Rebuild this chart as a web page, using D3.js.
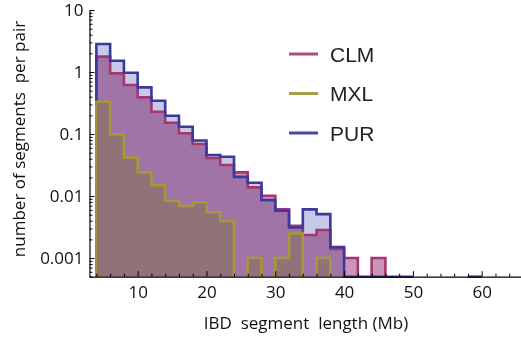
<!DOCTYPE html>
<html><head><meta charset="utf-8">
<script src="https://cdn.jsdelivr.net/npm/d3@7"></script>
<style>body{margin:0;background:#fff} svg{display:block}</style>
</head><body><svg id="c" width="521" height="339"></svg>
<script>
// histogram bins: 2 Mb wide starting at 4 Mb
const binStart = 4;
const binWidth = 2;
const seriesNames = ["CLM", "MXL", "PUR"];
const clmValues = [1.77, 0.95, 0.617, 0.39, 0.229, 0.152, 0.103, 0.069, 0.041, 0.0316,
  0.0241, 0.0138, 0.0101, 0.0061, 0.0033, 0.00235, 0.00283, 0.0014, 0.001, 0,
  0.001, 0, 0, 0, 0, 0, 0, 0];
const mxlValues = [0.332, 0.098, 0.0415, 0.0241, 0.015, 0.0084, 0.0069, 0.0079, 0.00546, 0.00395,
  0, 0.001, 0, 0.001, 0.0025, 0, 0.001, 0, 0, 0,
  0, 0, 0, 0, 0, 0, 0, 0];
const purValues = [2.83, 1.52, 0.975, 0.566, 0.344, 0.197, 0.131, 0.0785, 0.046, 0.043,
  0.0204, 0.0164, 0.0086, 0.0058, 0.0031, 0.0061, 0.0051, 0.0015, 0.0003, 0.0003,
  0.0003, 0.0003, 0.0003, 0, 0, 0, 0, 0.0003];
const xMajorTicks = [10, 20, 30, 40, 50, 60];
const xMinorTicks = [4, 6, 8, 12, 14, 16, 18, 22, 24, 26, 28, 32, 34, 36, 38, 42, 44, 46, 48, 52, 54, 56, 58, 62, 64];
const yTickValues = [10, 1, 0.1, 0.01, 0.001];
const yTickLabels = ["10", "1", "0.1", "0.01", "0.001"];
const xTitle = "IBD\u00a0\u00a0segment\u00a0\u00a0length (Mb)";
const yTitle = "number of segments\u00a0\u00a0per pair";

const strokeColors = {CLM: "#a3386f", MXL: "#a8963a", PUR: "#3a3a9c"};
const fillColors = {CLM: "rgb(205,148,185)", MXL: "rgb(228,252,184)", PUR: "rgb(200,200,232)"};
const legendColors = {CLM: "#b04a80", MXL: "#a89a48", PUR: "#4848a8"};

const svg = d3.select("#c");
const x = d3.scaleLinear().domain([3, 66]).range([89.5, 523]);
const y = d3.scaleLog().domain([0.0005, 10]).range([276.7, 10]);
const yMin = y.domain()[0];
const base = y(yMin);

function buildPaths(vals) {
  const runs = [];
  let cur = null;
  vals.forEach((v, i) => {
    if (v > 0) { if (!cur) { cur = []; runs.push(cur); } cur.push(i); }
    else cur = null;
  });
  return runs.map(run => {
    const pts = [];
    const e0 = binStart + run[0] * binWidth;
    pts.push([x(e0), base]);
    run.forEach(i => {
      const yy = y(Math.max(vals[i], yMin));
      pts.push([x(binStart + i * binWidth), yy]);
      pts.push([x(binStart + (i + 1) * binWidth), yy]);
    });
    const e1 = binStart + (run[run.length - 1] + 1) * binWidth;
    pts.push([x(e1), base]);
    return pts;
  });
}

const data = {CLM: clmValues, MXL: mxlValues, PUR: purValues};
const line = d3.line();

const fills = svg.append("g");
["CLM", "MXL", "PUR"].forEach(name => {
  buildPaths(data[name]).forEach(pts => {
    fills.append("path").attr("d", line(pts) + "Z")
      .attr("fill", fillColors[name]).style("mix-blend-mode", "multiply");
  });
});

const strokes = svg.append("g");
["CLM", "PUR", "MXL"].forEach(name => {
  buildPaths(data[name]).forEach(pts => {
    strokes.append("path").attr("d", line(pts))
      .attr("fill", "none").attr("stroke", strokeColors[name])
      .attr("stroke-width", 2.6).attr("stroke-linejoin", "miter");
  });
});

// axes
const font = "'Open Sans', sans-serif";
const xAxisG = svg.append("g").attr("transform", `translate(0,${base})`);
xAxisG.call(d3.axisBottom(x).tickValues(xMajorTicks).tickSize(-5.5).tickSizeOuter(0).tickPadding(9));
xAxisG.append("g").call(d3.axisBottom(x).tickValues(xMinorTicks).tickSize(-3).tickSizeOuter(0).tickFormat(""))
  .select(".domain").remove();
xAxisG.selectAll("text").attr("font-family", font).attr("font-size", 17).attr("fill", "#111");

const yMinor = [];
for (let e = -4; e <= 0; e++) for (let m = 2; m <= 9; m++) {
  const v = m * Math.pow(10, e);
  if (v >= yMin && v <= 10) yMinor.push(v);
}
const yAxisG = svg.append("g").attr("transform", `translate(${x.range()[0]},0)`);
yAxisG.call(d3.axisLeft(y).tickValues(yTickValues).tickFormat((d, i) => yTickLabels[i])
  .tickSize(-5).tickSizeOuter(0).tickPadding(6));
yAxisG.append("g").call(d3.axisLeft(y).tickValues(yMinor).tickSize(-3).tickSizeOuter(0).tickFormat(""))
  .select(".domain").remove();
yAxisG.selectAll("text").attr("font-family", font).attr("font-size", 17).attr("fill", "#111");
svg.selectAll(".domain").attr("stroke", "#000").attr("stroke-width", 1.2);
svg.selectAll(".tick line").attr("stroke", "#000");

// titles
svg.append("text").attr("x", 306).attr("y", 329).attr("text-anchor", "middle")
  .attr("font-family", font).attr("font-size", 17).attr("fill", "#111").text(xTitle);
svg.append("text").attr("transform", "translate(25,139) rotate(-90)").attr("text-anchor", "middle")
  .attr("font-family", font).attr("font-size", 17).attr("fill", "#111").text(yTitle);

// legend
const legendY = [54, 93.5, 133];
seriesNames.forEach((name, i) => {
  svg.append("line").attr("x1", 289).attr("x2", 318).attr("y1", legendY[i]).attr("y2", legendY[i])
    .attr("stroke", legendColors[name]).attr("stroke-width", 3);
  svg.append("text").attr("x", 330).attr("y", legendY[i]).attr("dy", "0.36em")
    .attr("font-family", "'Liberation Sans', Arial, sans-serif").attr("font-size", 21)
    .attr("fill", "#222").text(name);
});
</script>
</body></html>
